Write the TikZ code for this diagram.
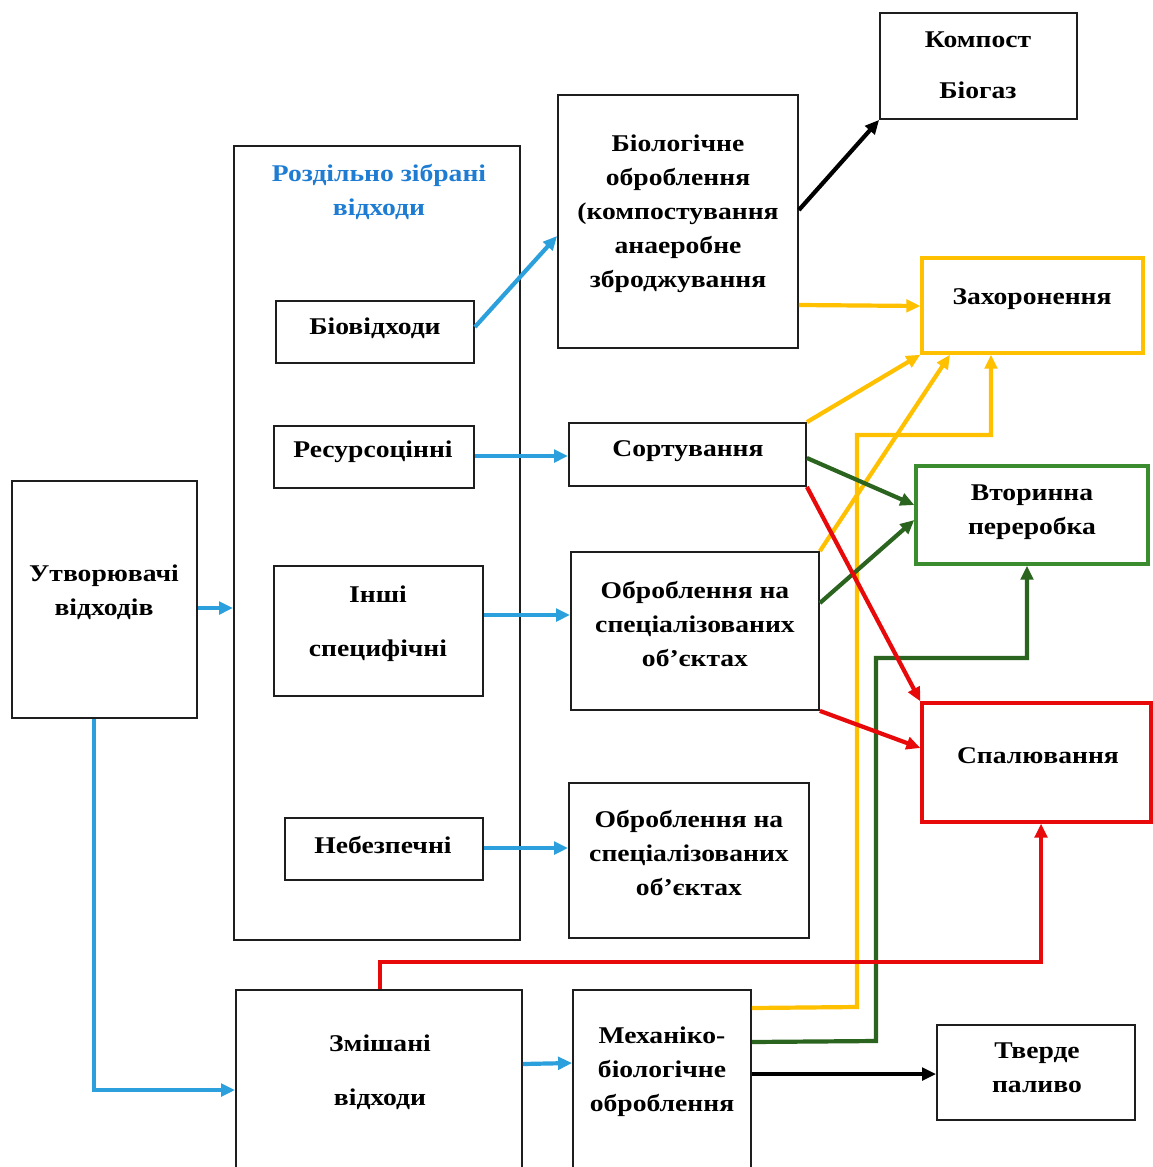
\documentclass[tikz,border=0pt]{standalone}
\usepackage{fontspec}
\setmainfont{Liberation Serif}[FakeStretch=1.15]
\usetikzlibrary{arrows.meta,fit}
\definecolor{cblue}{RGB}{44,160,220}
\definecolor{ctitle}{RGB}{30,125,210}
\definecolor{cyel}{RGB}{255,192,0}
\definecolor{cgreenbox}{RGB}{58,140,46}
\definecolor{cgreen}{RGB}{42,100,30}
\definecolor{cred}{RGB}{232,10,10}
\definecolor{cbox}{RGB}{30,30,30}
\tikzset{
  box/.style={draw=cbox, line width=1.8pt, inner sep=0pt},
  ybox/.style={draw=cyel, line width=3.4pt, inner sep=0pt},
  gbox/.style={draw=cgreenbox, line width=3.4pt, inner sep=0pt},
  rbox/.style={draw=cred, line width=3.2pt, inner sep=0pt},
  txt/.style={font=\bfseries\fontsize{24}{34}\selectfont, align=center, inner sep=0pt},
  wtxt/.style={txt, font=\bfseries\fontsize{24}{54}\selectfont},
  con/.style={line width=4.2pt, -{Triangle[length=14pt,width=12.5pt]}},
  bl/.style={con, draw=cblue},
  ye/.style={con, draw=cyel},
  gr/.style={con, draw=cgreen},
  re/.style={con, draw=cred},
  bk/.style={con, draw=black},
}
\begin{document}
\begin{tikzpicture}[x=1pt,y=-1pt]
\useasboundingbox (0,0) rectangle (1153,1167);
\clip (0,0) rectangle (1153,1167);
\fill[white] (0,0) rectangle (1153,1167);
% boxes
\node[box, fit={(12,481) (197,718)}] (gen) {};
\node[box, fit={(234,146) (520,940)}] (sep) {};
\node[box, fit={(276,301) (474,363)}] (bio) {};
\node[box, fit={(274,426) (474,488)}] (res) {};
\node[box, fit={(274,566) (483,696)}] (oth) {};
\node[box, fit={(285,818) (483,880)}] (haz) {};
\node[box, fit={(558,95) (798,348)}] (btr) {};
\node[box, fit={(880,13) (1077,119)}] (comp) {};
\node[ybox, fit={(922,258) (1143,353)}] (land) {};
\node[box, fit={(569,423) (806,486)}] (sort) {};
\node[gbox, fit={(916,466) (1148,564)}] (rec) {};
\node[box, fit={(571,552) (819,710)}] (spec1) {};
\node[rbox, fit={(922,703) (1151,822)}] (inc) {};
\node[box, fit={(569,783) (809,938)}] (spec2) {};
\node[box, fit={(236,990) (522,1190)}] (mix) {};
\node[box, fit={(573,990) (751,1190)}] (mbt) {};
\node[box, fit={(937,1025) (1135,1120)}] (fuel) {};
% texts
\node[txt, text=ctitle] (t-sep) at (379,192) {Роздільно зібрані\\відходи};
\node[txt] (t-gen) at (104,592) {Утворювачі\\відходів};
\node[txt] (t-bio) at (375,328) {Біовідходи};
\node[txt] (t-res) at (373,452) {Ресурсоцінні};
\node[wtxt] (t-oth) at (378,624) {Інші\\специфічні};
\node[txt] (t-haz) at (383,845) {Небезпечні};
\node[txt] (t-btr) at (678,214) {Біологічне\\оброблення\\(компостування\\анаеробне\\зброджування};
\node[txt, font=\bfseries\fontsize{24}{51}\selectfont] (t-comp) at (978,65) {Компост\\Біогаз};
\node[txt] (t-land) at (1032,299) {Захоронення};
\node[txt] (t-sort) at (688,451) {Сортування};
\node[txt] (t-rec) at (1032,512) {Вторинна\\переробка};
\node[txt] (t-spec1) at (695,624) {Оброблення на\\спеціалізованих\\об’єктах};
\node[txt] (t-inc) at (1038,756) {Спалювання};
\node[txt] (t-spec2) at (689,853) {Оброблення на\\спеціалізованих\\об’єктах};
\node[wtxt] (t-mix) at (380,1072) {Змішані\\відходи};
\node[txt] (t-mbt) at (662,1072) {Механіко-\\біологічне\\оброблення};
\node[txt] (t-fuel) at (1037,1068) {Тверде\\паливо};
% blue connectors
\draw[bl] (gen.east |- 0,608) -- (sep.west |- 0,608);
\draw[bl] (gen.south -| 94,0) |- (mix.west |- 0,1090);
\draw[bl] (bio.east |- 0,327) -- (btr.west |- 0,236);
\draw[bl] (res.east |- 0,456) -- (sort.west |- 0,456);
\draw[bl] (oth.east |- 0,615) -- (spec1.west |- 0,615);
\draw[bl] (haz.east |- 0,848) -- (spec2.west |- 0,848);
\draw[bl] (mix.east |- 0,1064) -- (mbt.west |- 0,1063);
% black
\draw[bk] (btr.east |- 0,210) -- (comp.south west);
\draw[bk] (mbt.east |- 0,1074) -- (fuel.west |- 0,1074);
% yellow
\draw[ye] (btr.east |- 0,305) -- (land.west |- 0,306);
\draw[ye] (sort.north east) -- (land.south west);
\draw[ye] (spec1.north east) -- (land.south -| 950,0);
\draw[ye] (mbt.east |- 0,1008) -- (857,1007) -- (857,435) -- (991,435) -- (land.south -| 991,0);
% green
\draw[gr] (sort.east |- 0,458) -- (rec.west |- 0,505);
\draw[gr] (spec1.east |- 0,603) -- (rec.west |- 0,520);
\draw[gr] (mbt.east |- 0,1042) -- (876,1041) -- (876,658) -- (1027,658) -- (rec.south -| 1027,0);
% red
\draw[re] (sort.south east) -- (inc.north west);
\draw[re] (spec1.south east) -- (inc.west |- 0,748);
\draw[re] (mix.north -| 380,0) -- (380,962) -- (1041,962) -- (inc.south -| 1041,0);
\end{tikzpicture}
\end{document}
